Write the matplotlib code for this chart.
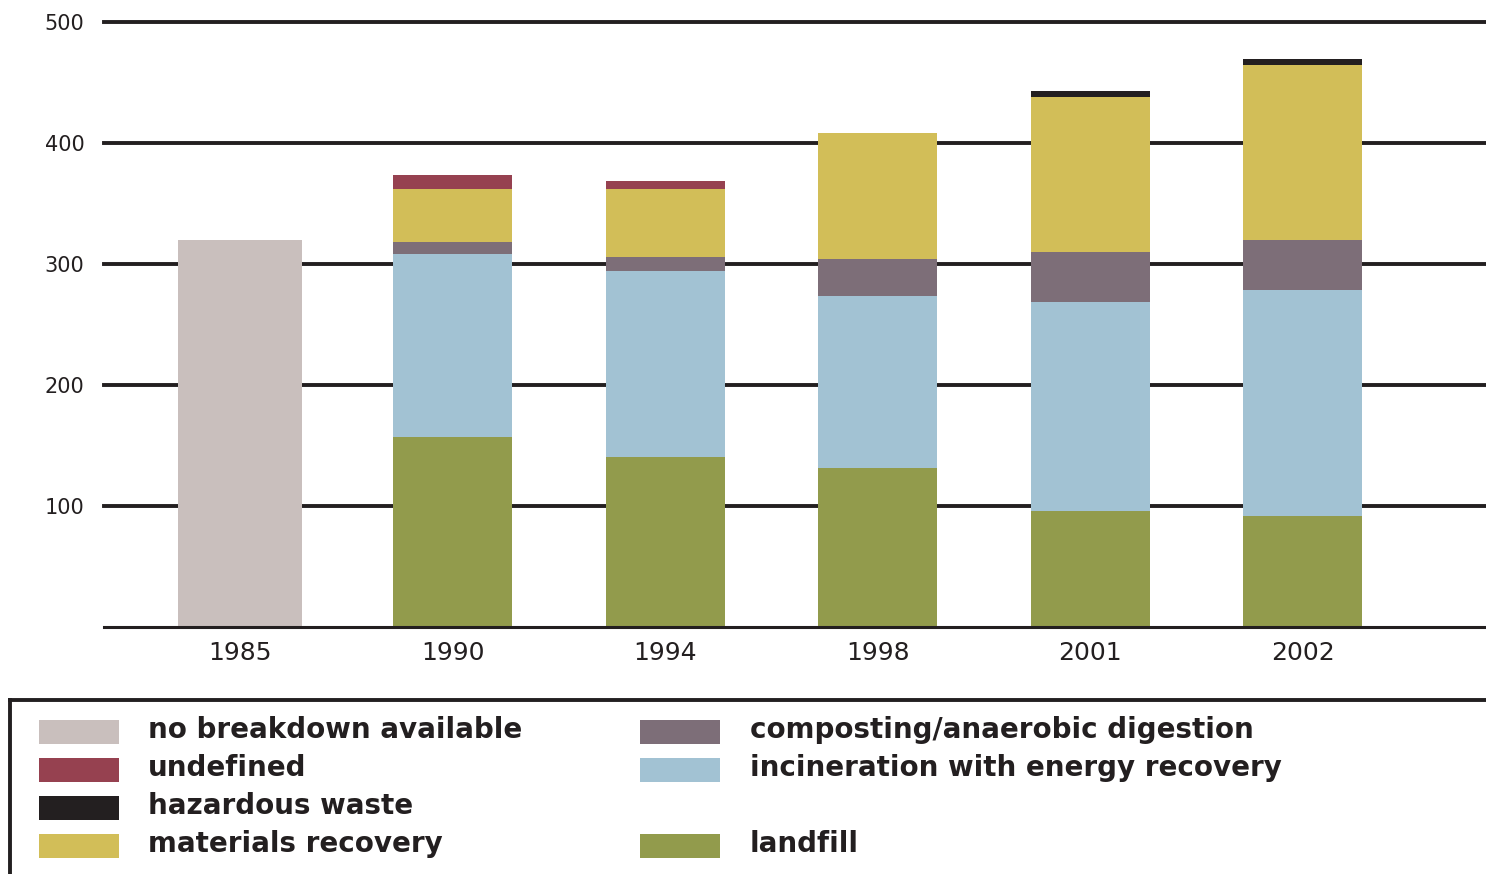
import numpy as np
import matplotlib.pyplot as plt
from matplotlib.patches import Rectangle

# values (stack order bottom -> top)
years = ['1985', '1990', '1994', '1998', '2001', '2002']
no_breakdown = [320, 0, 0, 0, 0, 0]
landfill = [0, 157, 140, 131, 96, 91.5]
incineration = [0, 151, 154, 142, 172, 187]
composting = [0, 10, 11.5, 31, 42, 41]
materials = [0, 44, 56, 104, 128, 145]
undefined = [0, 11, 6.5, 0, 0, 0]
hazardous = [0, 0, 0, 0, 5, 5]
yticks = [100, 200, 300, 400, 500]

colors = {
    'no breakdown available': '#c9bfbd',
    'undefined': '#964150',
    'hazardous waste': '#231f20',
    'materials recovery': '#d2be58',
    'composting/anaerobic digestion': '#7d6e78',
    'incineration with energy recovery': '#a2c2d3',
    'landfill': '#929b4c',
}
left_col = ['no breakdown available', 'undefined', 'hazardous waste', 'materials recovery']
right_col = ['composting/anaerobic digestion', 'incineration with energy recovery', None, 'landfill']

dark = '#231f20'
W, H = 1486, 874

fig = plt.figure(figsize=(W / 100, H / 100), dpi=100)
ax = fig.add_axes([104 / W, 1 - 626.7 / H, 1 - 104 / W, (626.7 - 21.7) / H])

x = np.arange(len(years))
widths = [0.585, 0.56, 0.56, 0.56, 0.56, 0.56]
stack = [
    (no_breakdown, 'no breakdown available'),
    (landfill, 'landfill'),
    (incineration, 'incineration with energy recovery'),
    (composting, 'composting/anaerobic digestion'),
    (materials, 'materials recovery'),
    (undefined, 'undefined'),
    (hazardous, 'hazardous waste'),
]
bottom = np.zeros(len(years))
for vals, name in stack:
    vals = np.array(vals, dtype=float)
    ax.bar(x, vals, width=widths, bottom=bottom, color=colors[name], linewidth=0, zorder=3)
    bottom += vals

ax.set_xlim(-0.64, 5.861)
ax.set_ylim(0, 500)
ax.set_yticks(yticks)
ax.set_yticklabels([str(v) for v in yticks], fontsize=15, color=dark)
ax.set_xticks(x)
ax.set_xticklabels(years, fontsize=18, color=dark)
ax.tick_params(axis='y', length=0, pad=14)
ax.tick_params(axis='x', length=0, pad=10)
ax.grid(axis='y', color=dark, linewidth=2.8, zorder=1)
ax.grid(axis='x', visible=False)
for gl in ax.get_ygridlines():
    gl.set_clip_on(False)
for s in ['top', 'right', 'left']:
    ax.spines[s].set_visible(False)
ax.spines['bottom'].set_color(dark)
ax.spines['bottom'].set_linewidth(2.2)
ax.spines['bottom'].set_zorder(4)

# legend box drawn by hand in pixel-like coordinates
lax = fig.add_axes([10 / W, 0, 1 - 10 / W, (H - 700) / H])
lax.set_xlim(10, W)
lax.set_ylim(H, 700)
lax.set_xticks([])
lax.set_yticks([])
for s in ['right', 'bottom']:
    lax.spines[s].set_visible(False)
for s in ['top', 'left']:
    lax.spines[s].set_color(dark)
    lax.spines[s].set_linewidth(2.8)

row_y = [732, 770, 808, 846]
for col, (px, tx) in zip([left_col, right_col], [(39, 148), (640, 750)]):
    for label, y in zip(col, row_y):
        if label is None:
            continue
        lax.add_patch(Rectangle((px, y - 12), 80, 24, color=colors[label], linewidth=0))
        lax.text(tx, y - 2, label, fontsize=20, fontweight='bold', color=dark,
                 va='center', ha='left')

fig.savefig('out.png', dpi=100)
